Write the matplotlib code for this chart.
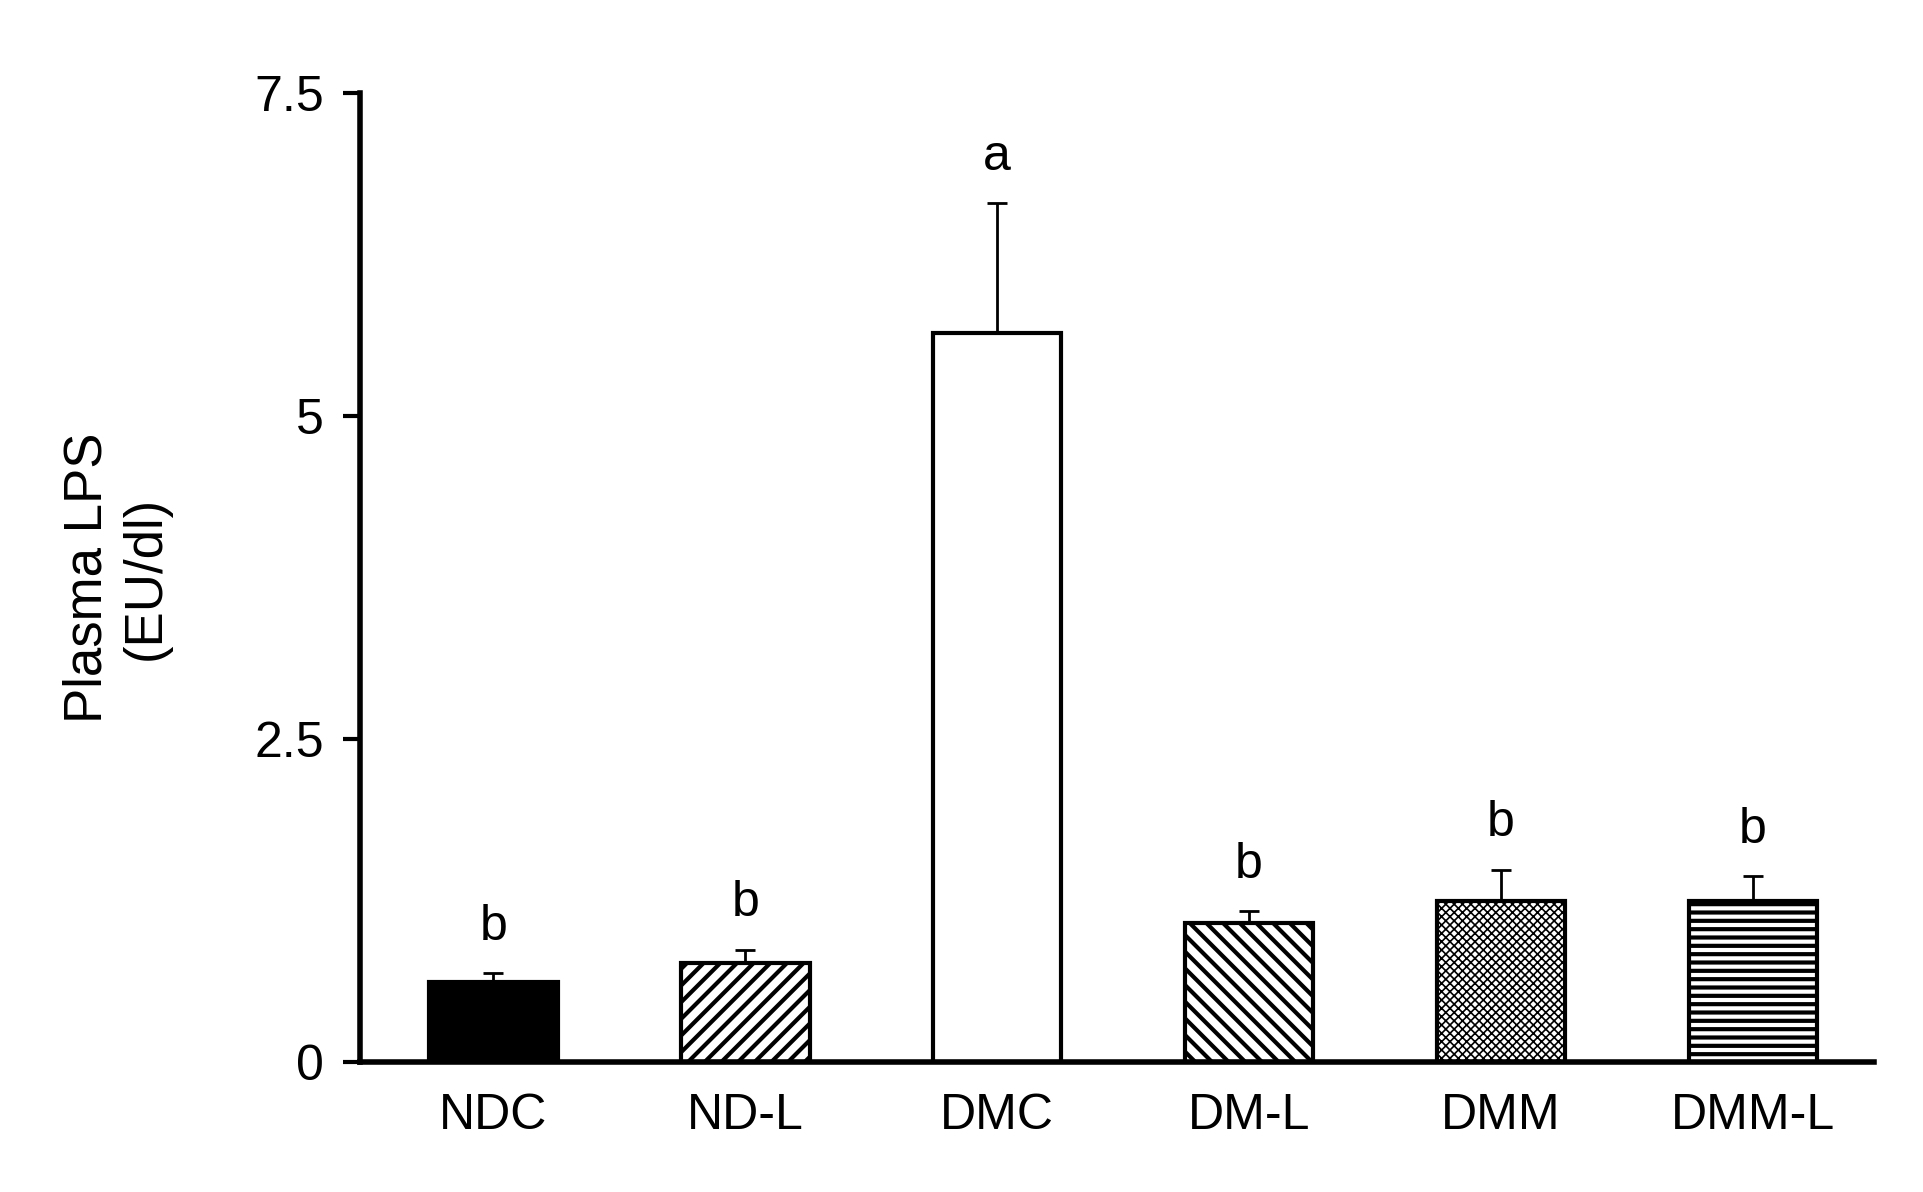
import matplotlib.pyplot as plt

plt.rcParams['font.family'] = ['Liberation Sans', 'DejaVu Sans']
plt.rcParams['hatch.linewidth'] = 3.0

groups = ['NDC', 'ND-L', 'DMC', 'DM-L', 'DMM', 'DMM-L']
means = [0.62, 0.77, 5.64, 1.08, 1.25, 1.25]
errors = [0.07, 0.10, 1.01, 0.09, 0.24, 0.19]
letters = ['b', 'b', 'a', 'b', 'b', 'b']

fills = ['black', 'white', 'white', 'white', 'white', 'white']
hatches = [None, '//', None, '\\\\', 'xxxx', '--']

fig = plt.figure(figsize=(19.24, 11.92), dpi=100)
ax = fig.add_axes([0.187, 0.109, 0.787, 0.813])

x = range(len(groups))
bars = ax.bar(x, means, width=0.51, color=fills, edgecolor='black', linewidth=3,
              hatch=hatches, zorder=2)
bars[4].set_hatch_linewidth(1.2)
ax.errorbar(x, means, yerr=[[0] * len(errors), errors], fmt='none',
            ecolor='black', elinewidth=2, capsize=7, capthick=2, zorder=3)

for i, (m, e, l) in enumerate(zip(means, errors, letters)):
    ax.text(i, m + e + 0.18, l, ha='center', va='bottom', fontsize=36)

ax.set_xlim(-0.53, 5.48)
ax.set_ylim(0, 7.5)
ax.set_yticks([0, 2.5, 5, 7.5])
ax.set_yticklabels(['0', '2.5', '5', '7.5'])
ax.set_xticks(list(x))
ax.set_xticklabels(groups)
ax.tick_params(axis='x', length=0, pad=22, labelsize=36)
ax.tick_params(axis='y', length=12, width=3, pad=14, labelsize=36)
for s in ['top', 'right']:
    ax.spines[s].set_visible(False)
for s in ['left', 'bottom']:
    ax.spines[s].set_linewidth(4)
ax.set_ylabel('Plasma LPS\n(EU/dl)', fontsize=38, labelpad=60)

fig.savefig('out.png', dpi=100)
